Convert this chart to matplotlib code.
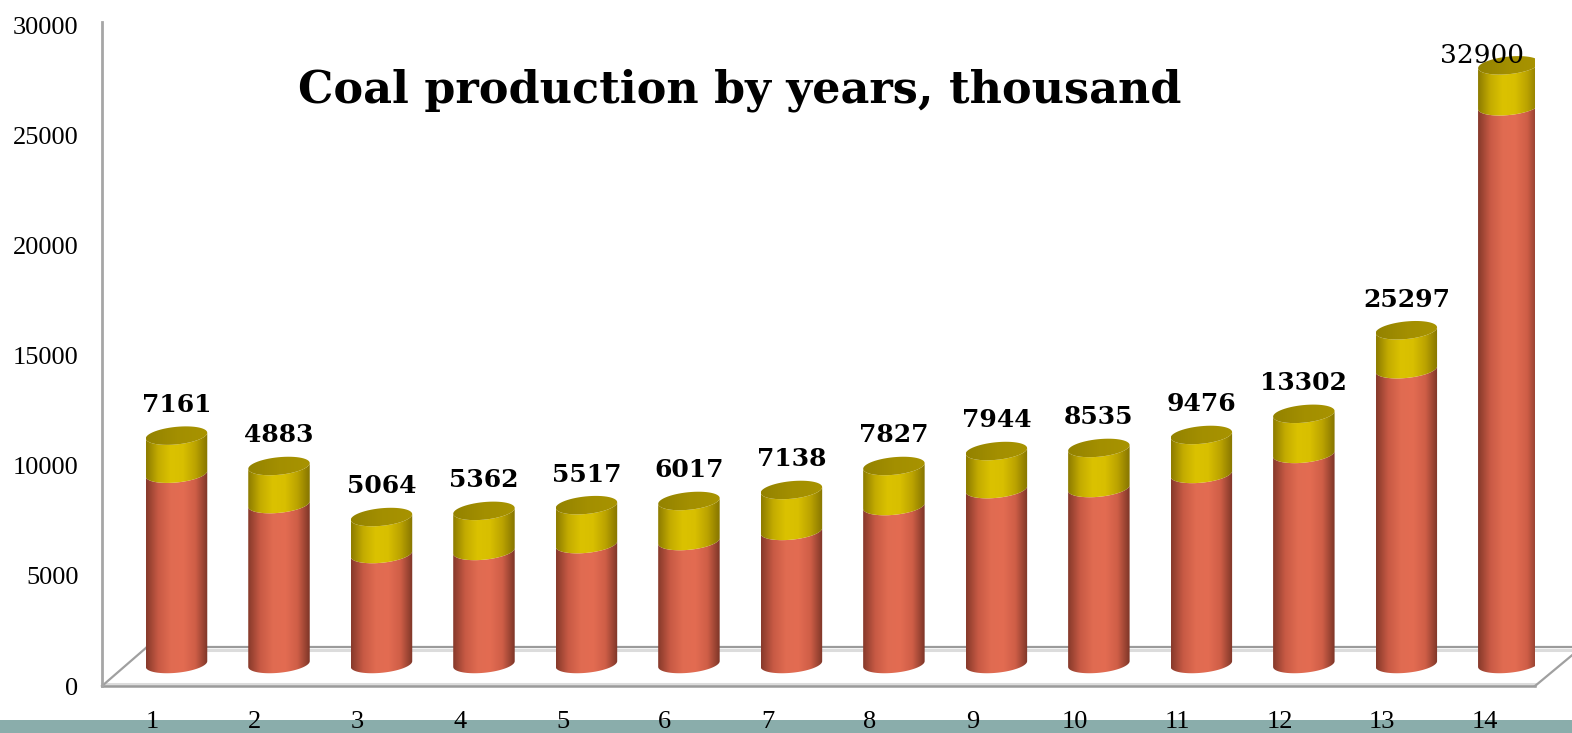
import numpy as np
import matplotlib.pyplot as plt
from matplotlib.colors import LinearSegmentedColormap
from matplotlib.patches import PathPatch, Rectangle
from matplotlib.path import Path
from matplotlib.transforms import ScaledTranslation

# data (lower red part and upper yellow part of each cylinder)
years = list(range(1, 15))
red_part = [8650, 7270, 5000, 5140, 5450, 5590, 6050, 7180, 7950, 8000, 8640, 9550, 13400, 25350]
yellow_part = [1730, 1730, 1680, 1820, 1770, 1820, 1860, 1820, 1730, 1820, 1770, 1820, 1770, 1860]
value_labels = ["7161", "4883", "5064", "5362", "5517", "6017", "7138",
                "7827", "7944", "8535", "9476", "13302", "25297", "32900"]
y_ticks = [0, 5000, 10000, 15000, 20000, 25000, 30000]

BASE = 1000      # bars stand a little behind the front edge of the 3D floor
BAR_W = 0.6
CAP_H = 400      # half height of the elliptic caps, in data units
TILT = 130

red_cmap = LinearSegmentedColormap.from_list(
    "red", ["#86392a", "#c85a45", "#e06b51", "#e36c52", "#cf5e47", "#7c3527"])
yel_cmap = LinearSegmentedColormap.from_list(
    "yel", ["#8c7b00", "#c4ac00", "#dbc200", "#d8bf00", "#bba300", "#857400"])
cap_cmap = LinearSegmentedColormap.from_list("cap", ["#938200", "#a38f00", "#a89300"])

fig = plt.figure(figsize=(15.72, 7.33), dpi=100)
ax = fig.add_axes([0.06489, 0.06412, 0.91158, 0.90587])
ax.set_zorder(2)
ax.patch.set_alpha(0)


def arc(cx, cy, t0, t1, n=60):
    t = np.linspace(t0, t1, n)
    return np.column_stack([cx + BAR_W / 2 * np.cos(t),
                            cy + CAP_H * np.sin(t) + TILT * np.cos(t)])


def shaded(path, cmap, extent, z):
    patch = PathPatch(path, facecolor="none", edgecolor="none", zorder=z)
    ax.add_patch(patch)
    grad = np.linspace(0, 1, 256).reshape(1, -1)
    im = ax.imshow(grad, cmap=cmap, extent=extent, aspect="auto",
                   interpolation="bicubic", zorder=z)
    im.set_clip_path(patch)


def segment(cx, y0, y1, cmap, z):
    verts = np.vstack([arc(cx, y0, np.pi, 2 * np.pi), arc(cx, y1, 2 * np.pi, np.pi)])
    path = Path(np.vstack([verts, verts[:1]]))
    ext = [cx - BAR_W / 2, cx + BAR_W / 2, y0 - CAP_H - TILT, y1 + CAP_H + TILT]
    shaded(path, cmap, ext, z)


for i, x in enumerate(years):
    y0 = BASE
    y1 = y0 + red_part[i]
    y2 = y1 + yellow_part[i]
    segment(x, y0, y1, red_cmap, 3)
    segment(x, y1, y2, yel_cmap, 4)
    top = arc(x, y2, 0, 2 * np.pi)
    shaded(Path(top), cap_cmap,
           [x - BAR_W / 2, x + BAR_W / 2, y2 - CAP_H - TILT, y2 + CAP_H + TILT], 5)

    if i == len(years) - 1:
        ax.annotate(value_labels[i], (x, y2), xytext=(-19, 7), textcoords="offset points",
                    ha="center", va="center", fontsize=19, family="DejaVu Serif",
                    zorder=6)
    else:
        ax.annotate(value_labels[i], (x, y2), xytext=(0, 22), textcoords="offset points",
                    ha="center", va="center", fontsize=18, fontweight="bold",
                    family="DejaVu Serif", zorder=6)

# 3D floor outline
x_left, x_right = 0.273, 14.2557
back_y, back_x0, back_x1 = 1773, 0.712, 14.62
ax.plot([back_x0, back_x1], [back_y - 130, back_y - 130], color="#dcdcdc", lw=2.2, zorder=1, clip_on=False)
ax.plot([back_x0, back_x1], [back_y, back_y], color="#9b9b9b", lw=1.6, zorder=1, clip_on=False)
ax.plot([x_left, x_right], [90, 90], color="#dcdcdc", lw=2.2, zorder=1, clip_on=False)
ax.plot([x_left, x_right], [0, 0], color="#9b9b9b", lw=1.8, zorder=1, clip_on=False)
ax.plot([x_left, back_x0], [0, back_y], color="#a0a0a0", lw=1.6, zorder=1, clip_on=False)
ax.plot([x_right, back_x1], [0, 1410], color="#a0a0a0", lw=1.6, zorder=1, clip_on=False)

ax.set_xlim(x_left, x_right)
ax.set_ylim(0, 30180)
for side in ["top", "right", "bottom"]:
    ax.spines[side].set_visible(False)
ax.spines["left"].set_color("#a6a6a6")
ax.spines["left"].set_linewidth(2.0)

ax.set_yticks(y_ticks)
ax.set_yticklabels([str(v) for v in y_ticks], family="Liberation Serif", fontsize=19)
ax.set_xticks(years)
ax.set_xticklabels([str(v) for v in years], family="Liberation Serif", fontsize=19)
ax.tick_params(axis="y", length=0, pad=17)
ax.tick_params(axis="x", length=0, pad=18)
for lab in ax.get_xticklabels():
    lab.set_transform(lab.get_transform() + ScaledTranslation(-0.24, 0, fig.dpi_scale_trans))

# teal strip along the bottom of the slide
fig.patches.append(Rectangle((0, 0), 1, 13 / 733, transform=fig.transFigure,
                             facecolor="#8aadab", edgecolor="none", zorder=0))

fig.text(740 / 1572, 1 - 102 / 733, "Coal production by years, thousand",
         ha="center", va="baseline", fontsize=32, fontweight="bold", family="DejaVu Serif")

plt.savefig("out.png", dpi=100)
